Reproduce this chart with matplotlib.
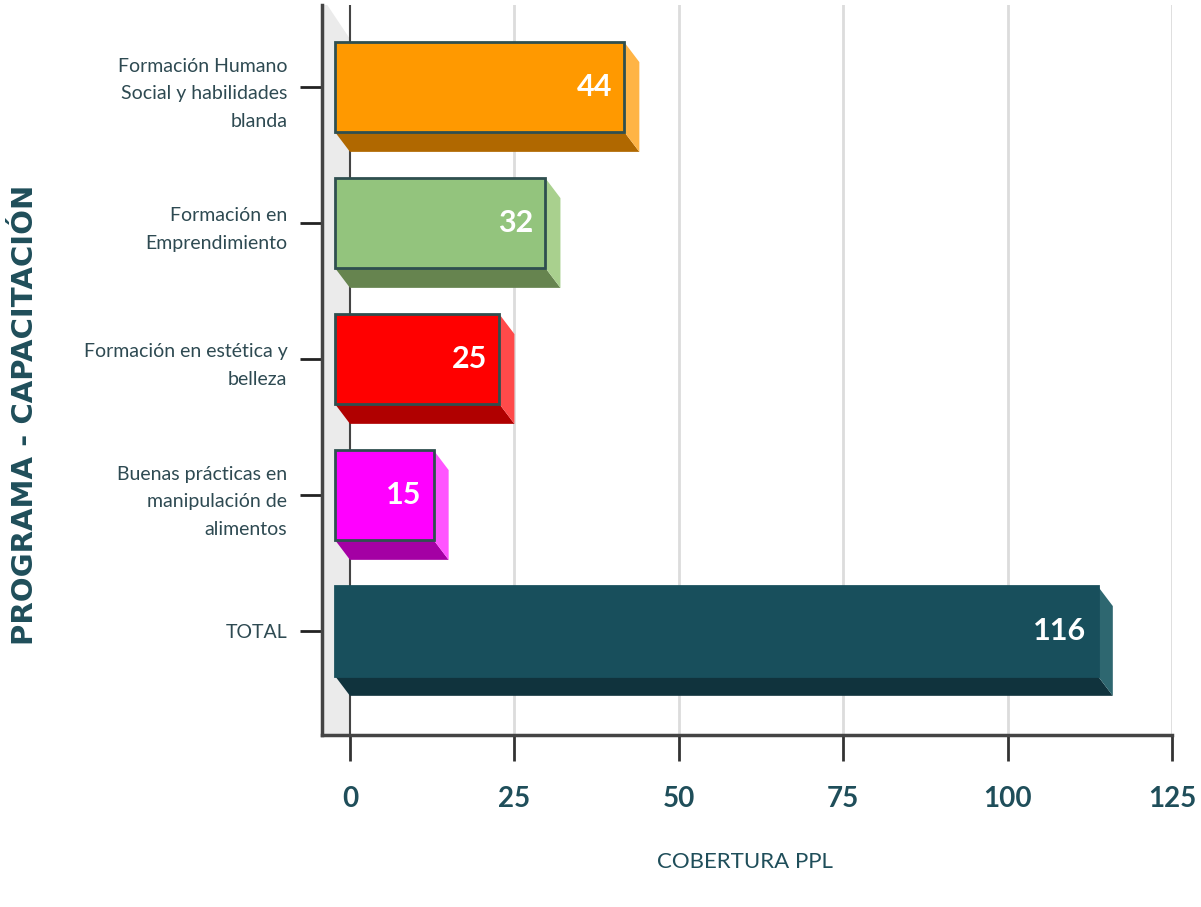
import matplotlib
matplotlib.use("Agg")
from matplotlib import pyplot as plt
from matplotlib.patches import Polygon

categories = [
    "Formación Humano\nSocial y habilidades\nblanda",
    "Formación en\nEmprendimiento",
    "Formación en estética y\nbelleza",
    "Buenas prácticas en\nmanipulación de\nalimentos",
    "TOTAL",
]
values = [44, 32, 25, 15, 116]
x_ticks = [0, 25, 50, 75, 100, 125]

# front, bottom face, side face colours
front_colors = ["#ff9900", "#93c47d", "#ff0000", "#ff00ff", "#184f5c"]
bottom_colors = ["#b06800", "#66844f", "#b00000", "#a400a4", "#10333d"]
side_colors = ["#ffb445", "#a9d08e", "#ff4a4a", "#ff55ff", "#2e6770"]
edge_colors = ["#2f4f4f", "#2f4f4f", "#2f4f4f", "#2f4f4f", "#184f5c"]

narrow = ["Lato", "DejaVu Sans"]
teal = "#1f4e5a"

fig = plt.figure(figsize=(12.01, 9.07), dpi=100)
ax = fig.add_axes([322 / 1201, 1 - 735 / 907, (1172 - 322) / 1201, 730 / 907])

x_left = -4.26
y_top, y_bottom = -0.603, 4.765
ax.set_xlim(x_left, 125)
ax.set_ylim(y_bottom, y_top)

dx = 2.3    # depth in x (data units)
dy = 0.147  # depth in y (category units)
h = 0.66

# side wall
wall = Polygon([(x_left, y_top), (x_left + 0.8, y_top), (0, y_top + 0.25),
                (0, y_bottom), (x_left, y_bottom)],
               closed=True, facecolor="#ebebeb", edgecolor="none", zorder=0)
ax.add_patch(wall)

for t in x_ticks[1:]:
    ax.axvline(t, color="#dcdcdc", lw=2, zorder=0.5)
ax.axvline(0, color="#444444", lw=1.5, zorder=0.6)

for i, v in enumerate(values):
    top = i - h / 2
    bot = i + h / 2
    # bottom face
    ax.add_patch(Polygon([(-dx, bot), (v - dx, bot), (v, bot + dy), (0, bot + dy)],
                         closed=True, facecolor=bottom_colors[i], edgecolor="none", zorder=2))
    # right face
    ax.add_patch(Polygon([(v - dx, top), (v, top + dy), (v, bot + dy), (v - dx, bot)],
                         closed=True, facecolor=side_colors[i], edgecolor="none", zorder=2))
    # front face
    ax.barh(i, v, left=-dx, height=h, color=front_colors[i],
            edgecolor=edge_colors[i], linewidth=2, zorder=3)
    ax.text(v - dx - 1.8, i, str(v), ha="right", va="center", color="white",
            fontsize=22, fontweight="bold", family=narrow, zorder=4)

ax.set_yticks(range(len(categories)))
ax.set_yticklabels(categories, family=narrow, fontsize=14, color="#2e4a52",
                   linespacing=1.75)
ax.set_xticks(x_ticks)
ax.set_xticklabels([str(t) for t in x_ticks], family=narrow, fontsize=20,
                   fontweight="bold", color=teal)

ax.tick_params(axis="y", length=16, width=2, color="#222222", pad=9)
ax.tick_params(axis="x", length=19, width=2, color="#333333", pad=18)

for s in ["top", "right"]:
    ax.spines[s].set_visible(False)
for s in ["left", "bottom"]:
    ax.spines[s].set_color("#444444")
    ax.spines[s].set_linewidth(2.5)

fig.text(745 / 1201, 1 - 862 / 907, "COBERTURA PPL", ha="center", va="center",
         fontsize=16, color=teal, family=narrow)
fig.text(25 / 1201, 1 - 415 / 907, "PROGRAMA - CAPACITACIÓN", ha="center",
         va="center", rotation=90, fontsize=21, fontweight="bold", color=teal)

plt.savefig("out.png", dpi=100)
